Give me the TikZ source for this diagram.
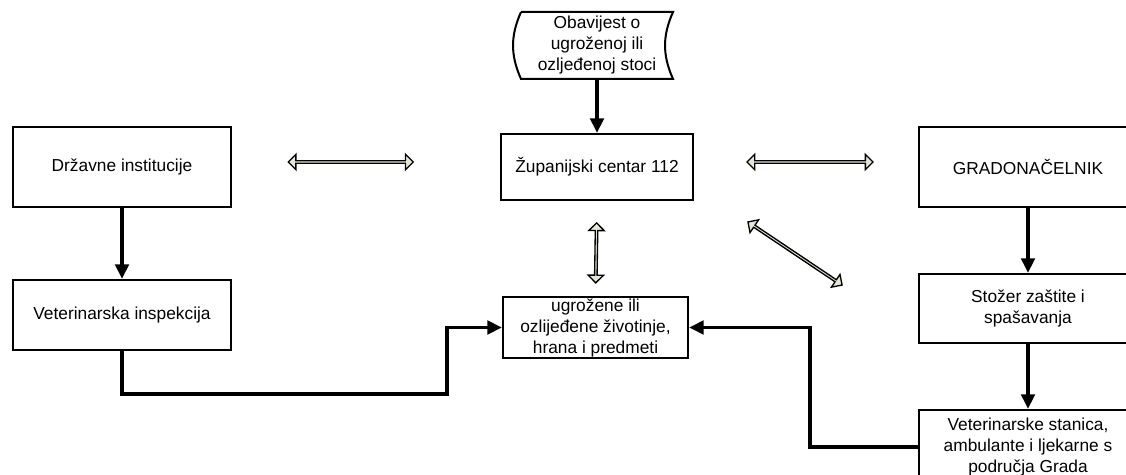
\documentclass[tikz,border=0pt]{standalone}
\usepackage{fontspec}
\setmainfont{Liberation Sans}
\usetikzlibrary{arrows.meta,shapes.arrows}
\definecolor{dblfill}{RGB}{228,231,212}
\tikzset{
    box/.style={draw, line width=1.5pt, align=center, inner sep=0pt, font=\fontsize{13}{15.75}\selectfont},
    link/.style={line width=2.8pt, -{Triangle[length=11pt,width=10pt]}},
    twoway/.style={double arrow, draw, fill=dblfill, line width=1pt, inner sep=0pt, minimum width=11.5pt, double arrow head extend=2.6pt, sloped}
}
\begin{document}
\begin{tikzpicture}[x=0.75pt, y=-0.75pt]
    \useasboundingbox (0, 0) rectangle (1126, 474);
    \clip (0, 0) rectangle (1126, 474);

    \node[box, draw=none, minimum width=112.5pt, minimum height=48.75pt] (note) at (597, 45.5) {Obavijest o\\ugroženoj ili\\ozljeđenoj stoci};
    \draw[line width=1.5pt] (note.north west) -- (note.north east) to[bend right=24] (note.south east) -- (note.south west) to[bend left=24] (note.north west);

    \node[box, minimum width=163.5pt, minimum height=60pt] (state) at (122, 167) {Državne institucije};
    \node[box, minimum width=163.5pt, minimum height=52.5pt] (vetinsp) at (122, 315) {Veterinarska inspekcija};
    \node[box, minimum width=144pt, minimum height=49.5pt] (centre) at (597, 167) {Županijski centar 112};
    \node[box, minimum width=138.75pt, minimum height=45.75pt] (animals) at (595.5, 327.5) {ugrožene ili\\ozlijeđene životinje,\\hrana i predmeti};
    \node[box, minimum width=163.5pt, minimum height=60pt] (mayor) at (1028, 167) {GRADONAČELNIK};
    \node[box, minimum width=163.5pt, minimum height=51.75pt] (hq) at (1028, 308.5) {Stožer zaštite i\\spašavanja};
    \node[box, minimum width=163.5pt, minimum height=55.5pt] (vetst) at (1028, 447) {Veterinarske stanica,\\ambulante i ljekarne s\\područja Grada};

    \coordinate (lbend) at (447, 394);
    \coordinate (rbend) at (810, 327.5);
    \coordinate (d1) at (748, 222);
    \coordinate (d2) at (842, 285);

    \draw[link] (note.south) -- (centre.north);
    \draw[link] (state.south) -- (vetinsp.north);
    \draw[link] (mayor.south) -- (hq.north);
    \draw[link] (hq.south) -- (vetst.north);
    \draw[link] (vetinsp.south) |- (lbend) |- (animals.west);
    \draw[link] (vetst.west) -| (rbend) -- (animals.east);

    \path (state.east) -- node[twoway, pos=0.443, yshift=3.75pt, minimum height=93.75pt] {} (centre.west);
    \path (centre.east) -- node[twoway, pos=0.518, yshift=3.75pt, minimum height=94.5pt] {} (mayor.west);
    \path (centre.south) -- node[twoway, pos=0.546, minimum height=45pt] {} (animals.north);
    \path (d1) -- node[twoway, minimum height=85pt] {} (d2);
\end{tikzpicture}
\end{document}
